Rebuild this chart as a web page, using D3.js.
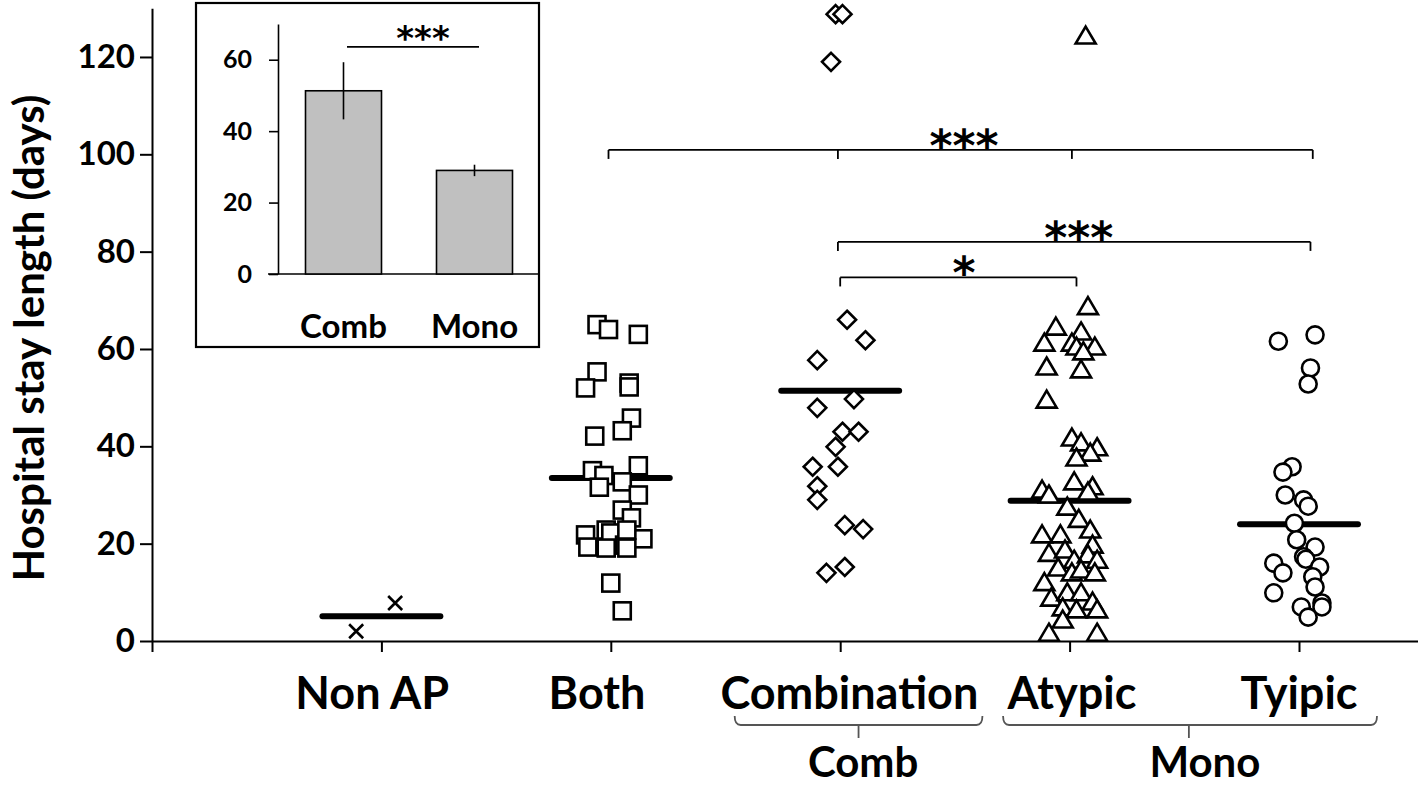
<!DOCTYPE html>
<html>
<head>
<meta charset="utf-8">
<script src="https://cdn.jsdelivr.net/npm/d3@7/dist/d3.min.js"></script>
<style>
  body { margin: 0; background: #fff; }
  text { font-family: Lato, "Open Sans", sans-serif; font-weight: bold; fill: #000; }
</style>
</head>
<body>
<svg id="chart" width="1418" height="787"></svg>
<script>
// categories and axis ticks
const categories = ["Non AP", "Both", "Combination", "Atypic", "Tyipic"];
const categoryPos = [1, 2, 3, 4, 5];
const labelPos = [0.96, 1.94, 3.04, 4.01, 5.0];
const yTicks = [0, 20, 40, 60, 80, 100, 120];

// individual patients: [x (group + jitter), days]
const nonApPts = [[0.89, 2.0], [1.06, 7.8]];
const bothPts = [
  [1.94, 65], [1.99, 64], [2.12, 63], [1.94, 55.3], [1.89, 52], [2.08, 53], [2.08, 52.2],
  [2.09, 45.8], [2.05, 43.2], [1.93, 42.1], [1.92, 35], [1.97, 34], [2.12, 36], [1.95, 31.6],
  [2.05, 32.7], [2.12, 30], [2.05, 26.9], [2.09, 25.3], [1.89, 21.8], [1.98, 22.8], [2.0, 22.2],
  [2.14, 21], [1.90, 19.3], [1.98, 19.1], [2.06, 19.7], [2.07, 19.1], [2.07, 22.8], [2.0, 11.9],
  [2.05, 6.2]
];
const combPts = [
  [3.03, 66], [3.11, 61.8], [2.90, 57.7], [2.90, 47.9], [3.06, 49.7], [3.01, 43], [3.08, 43],
  [2.98, 39.9], [2.88, 35.8], [2.99, 35.8], [2.90, 31.8], [2.90, 29], [3.02, 23.8], [3.10, 23],
  [2.94, 14], [3.02, 15.2], [2.98, 128.8], [3.01, 128.8], [2.96, 119]
];
const atypicPts = [
  [4.08, 68.7], [3.94, 64.5], [4.05, 63.5], [3.89, 61.2], [4.01, 61.2], [4.03, 60.4], [4.11, 60.4],
  [4.06, 59.4], [3.90, 56.3], [4.05, 55.7], [3.90, 49.5], [4.01, 41.7], [4.05, 40.7], [4.12, 39.7],
  [4.09, 38.6], [4.03, 37.6], [4.02, 32.7], [4.10, 31.7], [4.08, 30.6], [3.88, 31], [3.91, 30],
  [3.99, 27.5], [4.04, 25], [4.09, 22.8], [3.88, 21.8], [3.96, 21.8], [4.10, 19.7], [3.91, 18],
  [3.98, 18.7], [4.02, 16.6], [4.08, 17.7], [4.12, 16.6], [3.95, 15], [4.01, 14], [4.05, 14.6],
  [4.11, 14], [3.89, 12], [3.92, 8.8], [3.99, 9.9], [4.05, 9.9], [4.10, 8], [3.97, 6.8],
  [4.03, 6.4], [3.97, 4.3], [4.12, 6.4], [3.91, 1.6], [4.12, 1.6], [4.07, 124.3]
];
const typicPts = [
  [4.91, 61.6], [5.07, 62.9], [5.05, 56.1], [5.04, 52.8], [4.97, 35.8], [4.93, 34.7], [4.94, 30],
  [5.02, 29], [5.04, 27.7], [4.98, 24.2], [4.99, 20.8], [5.07, 19.3], [5.02, 17.3], [5.03, 16.8],
  [4.89, 16], [4.93, 14], [5.09, 15.2], [5.06, 13.2], [5.07, 11.1], [4.89, 9.9], [5.01, 7],
  [5.10, 7.8], [5.10, 7], [5.04, 4.9]
];
const groupMeans = [5.1, 33.5, 51.4, 28.8, 24.0];

// significance brackets
const sigFrom = [1.99, 2.99, 3.0];
const sigTo = [5.06, 5.05, 4.03];
const sigLevel = [100.9, 82.0, 74.7];
const sigDrops = [[1.99, 2.99, 4.01, 5.06], [2.99, 5.05], [3.0, 4.03]];
const sigText = ["***", "***", "*"];
const sigTextPos = [3.54, 4.04, 3.54];

// grouping braces under the axis
const braceNames = ["Comb", "Mono"];
const braceFrom = [2.54, 3.71];
const braceTo = [3.62, 5.34];
const braceMid = [3.08, 4.52];
const braceLabelPos = [3.10, 4.59];

// inset bar chart
const insetCats = ["Comb", "Mono"];
const insetMeans = [51.3, 29.0];
const insetErr = [8.0, 1.6];
const insetTicks = [0, 20, 40, 60];

const svg = d3.select("#chart");

const x = d3.scaleLinear().domain([0, 6]).range([152, 1528.4]);
const y = d3.scaleLinear().domain([0, 130]).range([641, 8.3]);

// y axis
const yAxis = svg.append("g")
  .attr("transform", "translate(152,0)")
  .call(d3.axisLeft(y).tickValues(yTicks).tickSize(12).tickPadding(5).tickSizeOuter(0));
yAxis.select(".domain").attr("stroke", "#000").attr("stroke-width", 2);
yAxis.selectAll(".tick line").attr("stroke", "#000").attr("stroke-width", 2);
yAxis.selectAll(".tick text").style("font-size", "33px").attr("font-family", null);

svg.append("text")
  .attr("transform", "translate(44,338) rotate(-90)")
  .attr("text-anchor", "middle")
  .style("font-size", "42px")
  .text("Hospital stay length (days)");

// x axis, clipped at the right edge
const xAxis = svg.append("g")
  .attr("transform", "translate(0,641)")
  .call(d3.axisBottom(x).tickValues([0].concat(categoryPos)).tickSize(11).tickFormat("").tickSizeOuter(0));
xAxis.select(".domain").attr("stroke", "#000").attr("stroke-width", 2);
xAxis.selectAll(".tick line").attr("stroke", "#000").attr("stroke-width", 2);

svg.selectAll(".catLabel")
  .data(categories)
  .enter().append("text")
  .attr("class", "catLabel")
  .attr("x", (d, i) => x(labelPos[i]))
  .attr("y", 709)
  .attr("text-anchor", "middle")
  .style("font-size", "45px")
  .text(d => d);

// braces
braceNames.forEach((name, i) => {
  const x1 = x(braceFrom[i]), x2 = x(braceTo[i]), xm = x(braceMid[i]);
  const yb = 725;
  svg.append("path")
    .attr("d", `M${x1},${yb - 9} Q${x1},${yb} ${x1 + 6},${yb} L${x2 - 6},${yb} Q${x2},${yb} ${x2},${yb - 9}`
      + ` M${xm},${yb} L${xm},${yb + 13}`)
    .attr("fill", "none").attr("stroke", "#555").attr("stroke-width", 1.8);
  svg.append("text")
    .attr("x", x(braceLabelPos[i]))
    .attr("y", 777)
    .attr("text-anchor", "middle")
    .style("font-size", "42px")
    .text(name);
});

// significance brackets
sigText.forEach((t, i) => {
  const yy = y(sigLevel[i]);
  svg.append("line")
    .attr("x1", x(sigFrom[i])).attr("x2", x(sigTo[i]))
    .attr("y1", yy).attr("y2", yy)
    .attr("stroke", "#000").attr("stroke-width", 1.8);
  svg.selectAll(null)
    .data(sigDrops[i])
    .enter().append("line")
    .attr("x1", d => x(d)).attr("x2", d => x(d))
    .attr("y1", yy).attr("y2", yy + 9)
    .attr("stroke", "#000").attr("stroke-width", 1.8);
  svg.append("text")
    .attr("x", x(sigTextPos[i]))
    .attr("y", yy + 11)
    .attr("text-anchor", "middle")
    .style("font-family", "DejaVu Sans")
    .style("font-weight", "bold")
    .style("font-size", "44px")
    .text(t);
});

// group means
svg.selectAll(".mean")
  .data(groupMeans)
  .enter().append("line")
  .attr("class", "mean")
  .attr("x1", (d, i) => x(categoryPos[i] - 0.257))
  .attr("x2", (d, i) => x(categoryPos[i] + 0.257))
  .attr("y1", d => y(d)).attr("y2", d => y(d))
  .attr("stroke", "#000").attr("stroke-width", 6).attr("stroke-linecap", "round");

const mk = { fill: "#fff", stroke: "#000", sw: 2.6 };

// Non AP: crosses
svg.selectAll(".cross")
  .data(nonApPts)
  .enter().append("path")
  .attr("class", "cross")
  .attr("transform", d => `translate(${x(d[0])},${y(d[1])})`)
  .attr("d", "M-7,-7L7,7M-7,7L7,-7")
  .attr("stroke", "#000").attr("stroke-width", 2.6).attr("fill", "none");

// Both: squares
svg.selectAll(".sq")
  .data(bothPts)
  .enter().append("rect")
  .attr("class", "sq")
  .attr("x", d => x(d[0]) - 8.5).attr("y", d => y(d[1]) - 8.5)
  .attr("width", 17).attr("height", 17)
  .attr("fill", mk.fill).attr("stroke", mk.stroke).attr("stroke-width", mk.sw);

// Combination: diamonds
svg.selectAll(".dia")
  .data(combPts)
  .enter().append("path")
  .attr("class", "dia")
  .attr("transform", d => `translate(${x(d[0])},${y(d[1])})`)
  .attr("d", "M0,-9L9,0L0,9L-9,0Z")
  .attr("fill", mk.fill).attr("stroke", mk.stroke).attr("stroke-width", mk.sw);

// Atypic: triangles
svg.selectAll(".tri")
  .data(atypicPts)
  .enter().append("path")
  .attr("class", "tri")
  .attr("transform", d => `translate(${x(d[0])},${y(d[1])})`)
  .attr("d", "M0,-9.5L10,7.5L-10,7.5Z")
  .attr("fill", mk.fill).attr("stroke", mk.stroke).attr("stroke-width", mk.sw).attr("stroke-linejoin", "miter");

// Tyipic: circles
svg.selectAll(".circ")
  .data(typicPts)
  .enter().append("circle")
  .attr("class", "circ")
  .attr("cx", d => x(d[0])).attr("cy", d => y(d[1]))
  .attr("r", 8.5)
  .attr("fill", mk.fill).attr("stroke", mk.stroke).attr("stroke-width", mk.sw);

// ---- inset ----
const inset = svg.append("g");
inset.append("rect")
  .attr("x", 196).attr("y", 3).attr("width", 343).attr("height", 344)
  .attr("fill", "#fff").attr("stroke", "#000").attr("stroke-width", 2.2);

const ix = d3.scalePoint().domain(insetCats).range([278, 540]).padding(0.5);
const iy = d3.scaleLinear().domain([0, 70]).range([274, 24]);

const iyAxis = inset.append("g")
  .attr("transform", "translate(278,0)")
  .call(d3.axisLeft(iy).tickValues(insetTicks).tickSize(9).tickPadding(17).tickSizeOuter(0));
iyAxis.select(".domain").attr("stroke", "#000").attr("stroke-width", 1.6);
iyAxis.selectAll(".tick line").attr("stroke", "#000").attr("stroke-width", 1.6);
iyAxis.selectAll(".tick text").style("font-size", "25px").attr("font-family", null);

inset.append("line")
  .attr("x1", 268).attr("x2", 539)
  .attr("y1", iy(0)).attr("y2", iy(0))
  .attr("stroke", "#000").attr("stroke-width", 1.6);

inset.selectAll(".bar")
  .data(insetMeans)
  .enter().append("rect")
  .attr("class", "bar")
  .attr("x", (d, i) => ix(insetCats[i]) - 38)
  .attr("width", 76)
  .attr("y", d => iy(d))
  .attr("height", d => iy(0) - iy(d))
  .attr("fill", "#c0c0c0").attr("stroke", "#000").attr("stroke-width", 1.6);

inset.selectAll(".err")
  .data(insetMeans)
  .enter().append("line")
  .attr("class", "err")
  .attr("x1", (d, i) => ix(insetCats[i])).attr("x2", (d, i) => ix(insetCats[i]))
  .attr("y1", (d, i) => iy(d + insetErr[i])).attr("y2", (d, i) => iy(d - insetErr[i]))
  .attr("stroke", "#000").attr("stroke-width", 1.6);

inset.selectAll(".icat")
  .data(insetCats)
  .enter().append("text")
  .attr("class", "icat")
  .attr("x", d => ix(d))
  .attr("y", 338)
  .attr("text-anchor", "middle")
  .style("font-size", "33px")
  .text(d => d);

inset.append("line")
  .attr("x1", 347).attr("x2", 479)
  .attr("y1", iy(63.6)).attr("y2", iy(63.6))
  .attr("stroke", "#000").attr("stroke-width", 1.6);
inset.append("text")
  .attr("x", 423).attr("y", iy(63.6) + 3)
  .attr("text-anchor", "middle")
  .style("font-family", "DejaVu Sans").style("font-weight", "bold")
  .style("font-size", "34px")
  .text("***");
</script>
</body>
</html>
